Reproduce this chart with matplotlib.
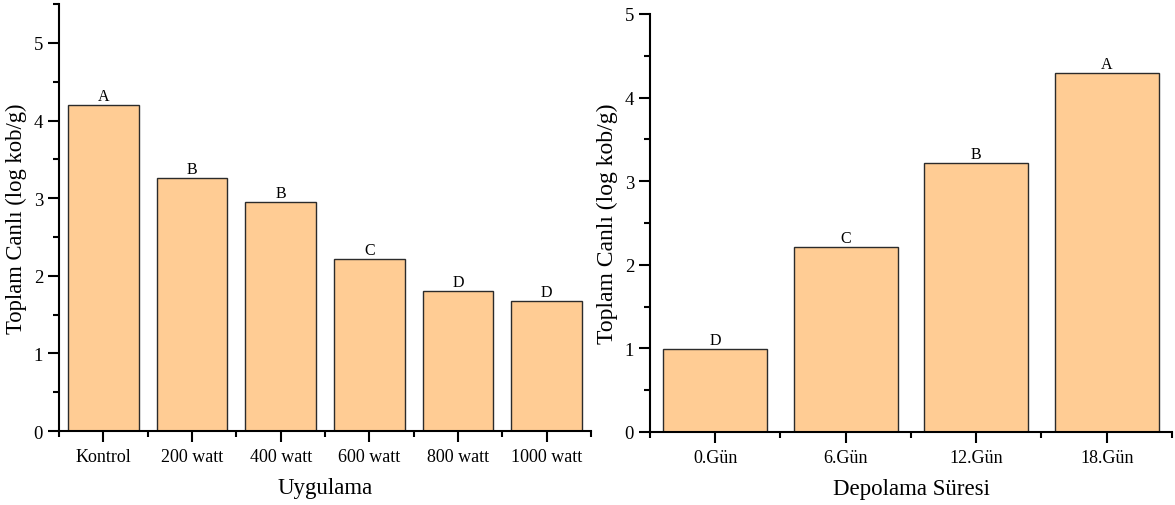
import matplotlib
matplotlib.use("Agg")
import matplotlib.pyplot as plt
from matplotlib.ticker import MultipleLocator, FixedLocator

plt.rcParams['font.family'] = ['Liberation Serif', 'DejaVu Serif']

# Left panel: treatments
treatments = ["Kontrol", "200 watt", "400 watt", "600 watt", "800 watt", "1000 watt"]
treat_values = [4.20, 3.26, 2.95, 2.22, 1.80, 1.67]
treat_letters = ["A", "B", "B", "C", "D", "D"]

# Right panel: storage days
days = ["0.Gün", "6.Gün", "12.Gün", "18.Gün"]
day_values = [0.99, 2.21, 3.22, 4.29]
day_letters = ["D", "C", "B", "A"]

bar_color = "#FFCC94"
edge_color = "#2b2b2b"

fig = plt.figure(figsize=(11.75, 5.06), dpi=100)
ax1 = fig.add_axes([0.0502, 0.1462, 0.4528, 0.8438])
ax2 = fig.add_axes([0.5532, 0.1443, 0.4442, 0.8261])


def draw(ax, cats, vals, letters, xlabel, ymax, ysize):
    x = list(range(len(cats)))
    ax.bar(x, vals, width=0.8, color=bar_color, edgecolor=edge_color, linewidth=1.0)
    for xi, v, lab in zip(x, vals, letters):
        ax.text(xi, v + 0.015, lab, ha="center", va="bottom", fontsize=11.5)
    ax.set_xlim(-0.5, len(cats) - 0.5)
    ax.set_ylim(0, ymax)
    ax.set_xticks(x)
    ax.set_xticklabels(cats, fontsize=13)
    ax.xaxis.set_minor_locator(FixedLocator([i + 0.5 for i in range(-1, len(cats))]))
    ax.yaxis.set_major_locator(MultipleLocator(1))
    ax.yaxis.set_minor_locator(MultipleLocator(0.5))
    ax.tick_params(axis="y", labelsize=13.5)
    ax.tick_params(which="major", direction="out", length=8, width=1.5)
    ax.tick_params(which="minor", direction="out", length=4, width=1.5)
    ax.tick_params(axis="x", pad=4)
    for s in ("top", "right"):
        ax.spines[s].set_visible(False)
    for s in ("left", "bottom"):
        ax.spines[s].set_linewidth(1.5)
    ax.set_xlabel(xlabel, fontsize=16.5, labelpad=9)
    ax.set_ylabel("Toplam Canlı (log kob/g)", fontsize=ysize, labelpad=5)


draw(ax1, treatments, treat_values, treat_letters, "Uygulama", 5.5, 16.3)
draw(ax2, days, day_values, day_letters, "Depolama Süresi", 5.0, 17.0)

fig.savefig("out.png", dpi=100)
